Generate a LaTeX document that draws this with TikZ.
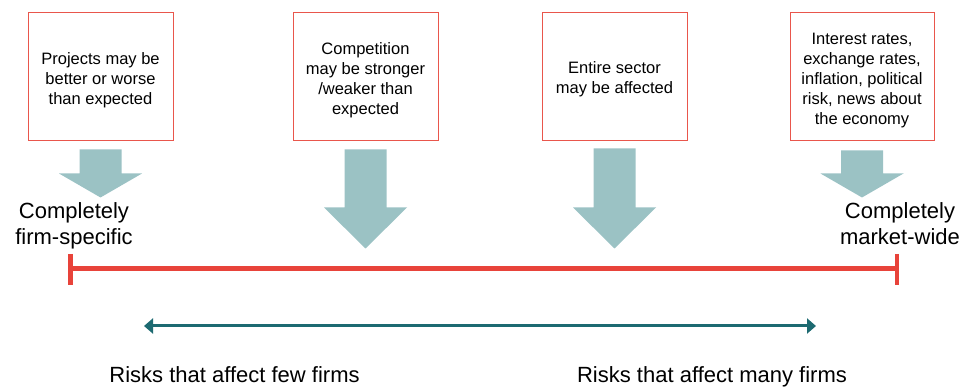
\documentclass[tikz,border=0pt]{standalone}
\usepackage{fontspec}
\setmainfont{Liberation Sans}
\usetikzlibrary{arrows.meta}

\definecolor{boxred}{HTML}{E9564C}
\definecolor{scalered}{HTML}{E8433A}
\definecolor{arrowfill}{HTML}{9BC2C4}
\definecolor{spanteal}{HTML}{1D6A71}

\tikzset{
  riskbox/.style={draw=boxred, line width=1pt, fill=white,
    minimum width=145pt, minimum height=128pt, inner sep=0pt},
  risktext/.style={inner sep=0pt, align=center,
    font=\fontsize{16.5}{20}\selectfont},
  endlabel/.style={anchor=north, inner sep=0pt, align=center,
    font=\fontsize{22}{26}\selectfont},
  spanlabel/.style={anchor=base, inner sep=0pt,
    font=\fontsize{22}{26}\selectfont},
  scaleline/.style={draw=scalered, line width=4.5pt},
  spanline/.style={draw=spanteal, line width=3pt,
    {Triangle[length=9pt,width=15pt]}-{Triangle[length=9pt,width=15pt]}},
  pics/blockarrow/.style args={#1/#2}{code={
    \fill[arrowfill] (-21,0) -- (21,0) -- (21,#1) -- (41.5,#1)
      -- (0,#1+#2) -- (-41.5,#1) -- (-21,#1) -- cycle;}}
}

\begin{document}
\begin{tikzpicture}[x=1pt,y=-1pt]
  \useasboundingbox (0,0) rectangle (962,387);

  % sources of risk: frames, then their text set slightly below centre
  \node[riskbox] (b1) at (100.5,77) {};
  \node[riskbox] (b2) at (365.5,77) {};
  \node[riskbox] (b3) at (614.5,77) {};
  \node[riskbox, minimum width=144pt] (b4) at (862,77) {};
  \node[risktext] (t1) at ([yshift=-3pt]b1.center) {Projects may be\\better or worse\\than expected};
  \node[risktext] (t2) at ([yshift=-3pt]b2.center) {Competition\\may be stronger\\/weaker than\\expected};
  \node[risktext] (t3) at ([yshift=-2pt]b3.center) {Entire sector\\may be affected};
  \node[risktext] (t4) at ([yshift=-3.5pt]b4.center)
    {Interest rates,\\exchange rates,\\inflation, political\\risk, news about\\the economy};

  % block arrows pointing down onto the scale
  \pic at ([yshift=-8pt]b1.south) {blockarrow=24/24};
  \pic at ([yshift=-8pt]b2.south) {blockarrow=58/41};
  \pic at ([yshift=-7pt]b3.south) {blockarrow=59/41};
  \pic at ([yshift=-9pt]b4.south) {blockarrow=23/24};

  % ends of the scale
  \node[endlabel] (firm) at (74,202) {Completely\\firm-specific};
  \node[endlabel] (market) at (900,202) {Completely\\market-wide};

  % the scale itself
  \coordinate (sL) at (70.5,268.5);
  \coordinate (sR) at (897,268.5);
  \draw[scaleline] (sL) -- (sR);
  \draw[scaleline] (sL) ++(0,-14.5) -- ++(0,31);
  \draw[scaleline] (sR) ++(0,-14.5) -- ++(0,31);

  % span of firms affected
  \coordinate (tL) at (144,326);
  \coordinate (tR) at (816,326);
  \draw[spanline] (tL) -- (tR);

  \node[spanlabel] (few) at (234.5,383) {Risks that affect few firms};
  \node[spanlabel] (many) at (712,383) {Risks that affect many firms};
\end{tikzpicture}
\end{document}
